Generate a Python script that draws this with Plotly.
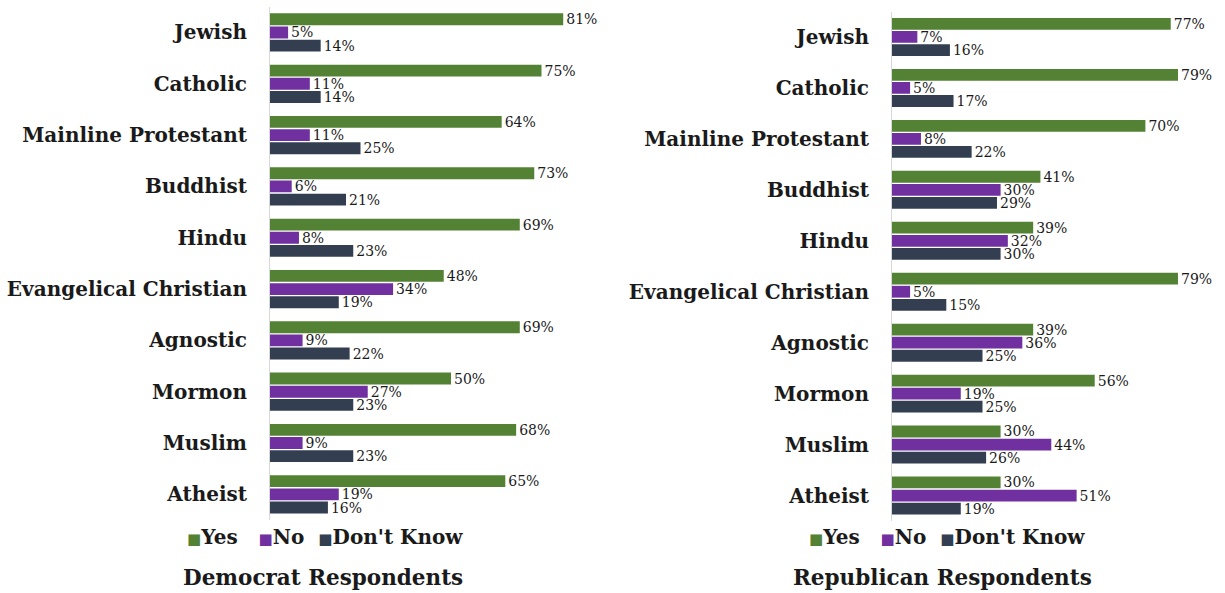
import plotly.graph_objects as go

categories = ["Jewish", "Catholic", "Mainline Protestant", "Buddhist", "Hindu",
              "Evangelical Christian", "Agnostic", "Mormon", "Muslim", "Atheist"]

dem_yes = [81, 75, 64, 73, 69, 48, 69, 50, 68, 65]
dem_no = [5, 11, 11, 6, 8, 34, 9, 27, 9, 19]
dem_dk = [14, 14, 25, 21, 23, 19, 22, 23, 23, 16]

rep_yes = [77, 79, 70, 41, 39, 79, 39, 56, 30, 30]
rep_no = [7, 5, 8, 30, 32, 5, 36, 19, 44, 51]
rep_dk = [16, 17, 22, 29, 30, 15, 25, 25, 26, 19]

series_names = ["Yes", "No", "Don't Know"]
colors = ["#548235", "#7030A0", "#333F50"]
panel_titles = ["Democrat Respondents", "Republican Respondents"]

W, H = 1225, 593
FONT = "DejaVu Serif"
TXT = "#1a1a1a"

fig = go.Figure()

panels = [
    (dict(x="x", y="y"), [dem_yes, dem_no, dem_dk]),
    (dict(x="x2", y="y2"), [rep_yes, rep_no, rep_dk]),
]

for axes, vals in panels:
    for name, v, c in zip(series_names, vals, colors):
        fig.add_trace(go.Bar(
            x=v, y=categories, orientation="h", name=name,
            marker=dict(color=c, line=dict(width=0)),
            text=v, texttemplate="%{x}%", textposition="outside",
            constraintext="none", cliponaxis=False,
            textfont=dict(family=FONT, size=14, color=TXT),
            xaxis=axes["x"], yaxis=axes["y"], showlegend=False,
            hoverinfo="skip",
        ))

def px_x(p):
    return p / W

def px_y(p):
    return 1 - p / H

scale = 3.62
xrange = [0, 90]
tickfont = dict(family=FONT, size=20, color=TXT, weight="bold")

fig.update_layout(
    width=W, height=H,
    margin=dict(l=0, r=0, t=0, b=0),
    paper_bgcolor="white", plot_bgcolor="rgba(0,0,0,0)",
    barmode="group", bargap=0.23, bargroupgap=0.1,
    font=dict(family=FONT, color=TXT),
    xaxis=dict(domain=[px_x(270), px_x(270 + 90 * scale)], range=xrange,
               visible=False, fixedrange=True),
    xaxis2=dict(domain=[px_x(892), px_x(892 + 90 * scale)], range=xrange,
                visible=False, fixedrange=True),
    yaxis=dict(domain=[px_y(520), px_y(6.8)], autorange="reversed",
               anchor="x", showline=True, linecolor="#d8d8d8", linewidth=1,
               showgrid=False, ticks="", ticklabelstandoff=18,
               tickfont=tickfont, fixedrange=True),
    yaxis2=dict(domain=[px_y(521), px_y(11.5)], autorange="reversed",
                anchor="x2", showline=True, linecolor="#d8d8d8", linewidth=1,
                showgrid=False, ticks="", ticklabelstandoff=18,
                tickfont=tickfont, fixedrange=True),
    showlegend=False,
)

# Legend rows (coloured squares + series names) under each panel
NB = "\u00a0"
def legend_text():
    parts = []
    gaps = [NB * 3, NB * 2, ""]
    for name, c, g in zip(series_names, colors, gaps):
        parts.append(f"<span style='color:{c};font-size:15px'>\u25A0</span>"
                     f"{name}{g}")
    return "".join(parts)

for x0 in [185, 807]:
    fig.add_annotation(text=legend_text(), x=px_x(x0), y=px_y(537),
                       xref="paper", yref="paper", xanchor="left",
                       yanchor="middle", showarrow=False,
                       font=dict(family=FONT, size=20, color=TXT,
                                 weight="bold"))

for title, cx in zip(panel_titles, [323, 942]):
    fig.add_annotation(text=title, x=px_x(cx), y=px_y(577), xref="paper",
                       yref="paper", xanchor="center", yanchor="middle",
                       showarrow=False,
                       font=dict(family=FONT, size=21.5, color=TXT,
                                 weight="bold"))

fig.write_html("out.html", config={"displayModeBar": False},
               post_script="document.body.style.margin='0';")
